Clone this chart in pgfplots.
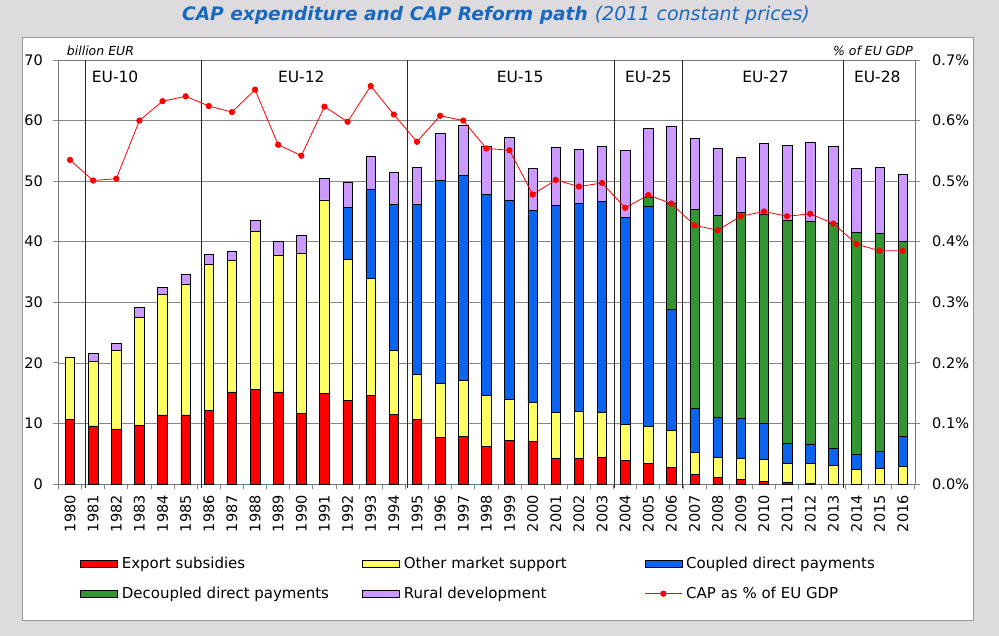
\documentclass[border=0pt]{standalone}
\usepackage{pgfplots}
\pgfplotsset{compat=1.18}
\usepackage{pgfplotstable}
\usepackage{fontspec}
\setmainfont{DejaVu Sans}

\definecolor{cred}{RGB}{255,0,0}
\definecolor{cyellow}{RGB}{255,255,102}
\definecolor{cblue}{RGB}{10,100,240}
\definecolor{cgreen}{RGB}{51,150,51}
\definecolor{cpurple}{RGB}{204,153,255}
\definecolor{bg}{RGB}{221,219,221}
\definecolor{ttl}{RGB}{25,105,190}
\definecolor{gridc}{RGB}{135,135,135}
\definecolor{axc}{RGB}{110,120,135}

\pgfplotsset{
  linelegend/.style={legend image code/.code={\draw[mark repeat=2, mark phase=2, ##1, sharp plot] plot coordinates {(0pt,0pt) (18.5pt,0pt) (37pt,0pt)};}},
  barlegend/.style={legend image code/.code={\draw[##1, line width=0.6pt] (0pt,-3.85pt) rectangle (37pt,3.85pt);}},
}

\pgfplotstableread{
x year red yellow blue green purple gdp
0 1980 10.6 10.3 0 0 0 0.535
1 1981 9.6 10.65 0 0 1.35 0.501
2 1982 9.1 13.0 0 0 1.1 0.504
3 1983 9.7 17.8 0 0 1.7 0.600
4 1984 11.4 19.9 0 0 1.2 0.632
5 1985 11.4 21.6 0 0 1.6 0.640
6 1986 12.2 24.1 0 0 1.6 0.624
7 1987 15.2 21.7 0 0 1.6 0.614
8 1988 15.6 26.1 0 0 1.8 0.651
9 1989 15.2 22.6 0 0 2.3 0.560
10 1990 11.7 26.4 0 0 3.0 0.542
11 1991 15.0 31.9 0 0 3.6 0.623
12 1992 13.8 23.3 8.6 0 4.1 0.598
13 1993 14.6 19.4 14.7 0 5.4 0.657
14 1994 11.5 10.6 24.1 0 5.3 0.610
15 1995 10.7 7.4 28.1 0 6.1 0.565
16 1996 7.7 8.9 33.5 0 7.8 0.608
17 1997 7.9 9.2 33.9 0 8.2 0.600
18 1998 6.2 8.4 33.2 0 8.0 0.554
19 1999 7.2 6.8 32.8 0 10.4 0.551
20 2000 7.0 6.5 31.7 0 6.9 0.478
21 2001 4.2 7.6 34.2 0 9.6 0.502
22 2002 4.2 7.8 34.3 0 9.0 0.491
23 2003 4.4 7.4 34.9 0 9.1 0.497
24 2004 3.9 6.0 34.1 0 11.1 0.456
25 2005 3.4 6.1 36.3 1.5 11.4 0.477
26 2006 2.75 6.15 19.9 17.5 12.8 0.463
27 2007 1.6 3.6 7.3 32.8 11.8 0.427
28 2008 1.1 3.3 6.6 33.4 11.0 0.419
29 2009 0.77 3.43 6.6 34.1 9.0 0.442
30 2010 0.4 3.7 5.9 34.6 11.6 0.450
31 2011 0.2 3.2 3.3 36.8 12.4 0.442
32 2012 0.15 3.25 3.1 36.9 13.0 0.446
33 2013 0 3.1 2.8 37.2 12.7 0.430
34 2014 0 2.4 2.5 36.7 10.5 0.396
35 2015 0 2.6 2.8 36.0 10.9 0.385
36 2016 0 2.9 5.0 32.2 11.0 0.385
}\data

\begin{document}
\begin{tikzpicture}[x=1pt,y=1pt]
\path[use as bounding box] (0,0) rectangle (999,-636);
\fill[bg] (0,0) rectangle (999,-636);
\filldraw[fill=white, draw=gray!80, line width=0.8pt] (22,-37) rectangle (973,-620);
\node[ttl, anchor=base, inner sep=0pt] at (496,-20.7) {{\fontsize{18.6}{22}\selectfont\bfseries\itshape CAP expenditure and CAP Reform path}\hspace{7pt}{\fontsize{19}{22}\selectfont\itshape (2011 constant prices)}};
\node[anchor=base west, inner sep=0pt, font=\fontsize{12.5}{15}\selectfont\itshape] at (66.7,-55.7) {billion EUR};
\node[anchor=base east, inner sep=0pt, font=\fontsize{12.5}{15}\selectfont\itshape] at (913,-55.7) {\% of EU GDP};

\begin{axis}[
  at={(58pt,-484pt)}, anchor=south west, scale only axis,
  width=857pt, height=424pt,
  xmin=-0.519, xmax=36.53, ymin=0, ymax=70,
  clip=false,
  ybar stacked, bar width=9.5pt,
  axis line style={axc, line width=0.8pt},
  ytick={0,10,20,30,40,50,60,70}, ytick pos=left,
  yticklabel style={font=\fontsize{14.5}{17}\selectfont, inner sep=0pt},
  yticklabel shift=10pt,
  /pgf/number format/assume math mode=true,
  xtick={-0.5,0.5,...,36.5}, xticklabels={},
  xtick pos=bottom,
  extra x ticks={0,1,...,36},
  extra x tick labels={1980,1981,1982,1983,1984,1985,1986,1987,1988,1989,1990,1991,1992,1993,1994,1995,1996,1997,1998,1999,2000,2001,2002,2003,2004,2005,2006,2007,2008,2009,2010,2011,2012,2013,2014,2015,2016},
  extra x tick style={major tick length=0pt, xticklabel style={rotate=90, anchor=east, inner sep=0pt, inner xsep=0pt, font=\fontsize{14.5}{17}\selectfont}, xticklabel shift=11pt},
  tick align=outside, major tick length=5pt,
  tick style={gridc, line width=0.8pt},
  ymajorgrids, grid style={gridc, line width=0.7pt},
  legend columns=3,
  legend cell align=left,
  legend style={at={(0.0257,-0.1733)}, anchor=north west, draw=none, fill=none, inner sep=0pt,
    font=\fontsize{15}{18}\selectfont,
    nodes={inner sep=0pt, text height=11pt, text depth=1pt},
    row sep=18pt,
    /tikz/every odd column/.append style={column sep=4pt}},
  barlegend,
]
\addplot[fill=cred, draw=black, line width=0.6pt] table[x=x,y=red]{\data};
\addlegendentry{\makebox[240.5pt][l]{Export subsidies}}
\addplot[fill=cyellow, draw=black, line width=0.6pt] table[x=x,y=yellow]{\data};
\addlegendentry{\makebox[240.5pt][l]{Other market support}}
\addplot[fill=cblue, draw=black, line width=0.6pt] table[x=x,y=blue]{\data};
\addlegendentry{\makebox[240.5pt][l]{Coupled direct payments}}
\addplot[fill=cgreen, draw=black, line width=0.6pt] table[x=x,y=green]{\data};
\addlegendentry{\makebox[240.5pt][l]{Decoupled direct payments}}
\addplot[fill=cpurple, draw=black, line width=0.6pt] table[x=x,y=purple]{\data};
\addlegendentry{\makebox[240.5pt][l]{Rural development}}
\addlegendimage{red, line width=0.8pt, mark=*, mark size=2.7pt, linelegend}
\addlegendentry{\makebox[240.5pt][l]{CAP as \% of EU GDP}}

\draw[black!85, line width=0.7pt] (axis cs:0.65,-0.6) -- (axis cs:0.65,70);
\draw[black!85, line width=0.7pt] (axis cs:5.66,-0.6) -- (axis cs:5.66,70);
\draw[black!85, line width=0.7pt] (axis cs:14.58,-0.6) -- (axis cs:14.58,70);
\draw[black!85, line width=0.7pt] (axis cs:23.53,-0.6) -- (axis cs:23.53,70);
\draw[black!85, line width=0.7pt] (axis cs:26.47,-0.6) -- (axis cs:26.47,70);
\draw[black!85, line width=0.7pt] (axis cs:33.43,-0.6) -- (axis cs:33.43,70);
\node[font=\fontsize{15.5}{18}\selectfont] at (axis cs:1.95,67.2) {EU-10};
\node[font=\fontsize{15.5}{18}\selectfont] at (axis cs:10.0,67.2) {EU-12};
\node[font=\fontsize{15.5}{18}\selectfont] at (axis cs:19.46,67.2) {EU-15};
\node[font=\fontsize{15.5}{18}\selectfont] at (axis cs:25.0,67.2) {EU-25};
\node[font=\fontsize{15.5}{18}\selectfont] at (axis cs:30.07,67.2) {EU-27};
\node[font=\fontsize{15.5}{18}\selectfont] at (axis cs:34.9,67.2) {EU-28};
\end{axis}

\begin{axis}[
  at={(58pt,-484pt)}, anchor=south west, scale only axis,
  width=857pt, height=424pt,
  xmin=-0.519, xmax=36.53, ymin=0, ymax=0.7,
  axis x line=none, axis y line*=right,
  axis line style={axc, line width=0.8pt},
  ytick={0,0.1,0.2,0.3,0.4,0.5,0.6,0.7},
  tick align=outside, major tick length=5pt,
  tick style={gridc, line width=0.8pt},
  yticklabel={\pgfmathprintnumber[fixed,fixed zerofill,precision=1,assume math mode=true]{\tick}\%},
  yticklabel style={font=\fontsize{14.5}{17}\selectfont, inner sep=0pt},
  yticklabel shift=12pt,
]
\addplot[cred, line width=0.8pt, mark=*, mark size=2.7pt, mark options={fill=cred, draw=cred}] table[x=x,y=gdp]{\data};
\end{axis}
\end{tikzpicture}
\end{document}
